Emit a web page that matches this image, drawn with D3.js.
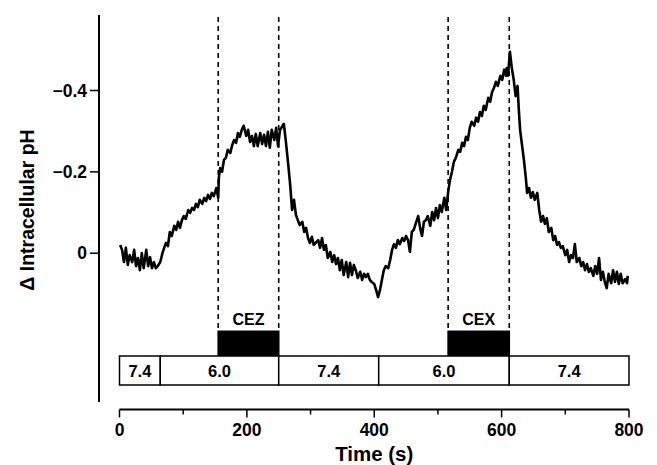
<!DOCTYPE html>
<html>
<head>
<meta charset="utf-8">
<script src="https://cdn.jsdelivr.net/npm/d3@7"></script>
<style>
  html, body { margin: 0; padding: 0; background: #fff; }
  svg text { font-family: "Liberation Sans", Arial, Helvetica, sans-serif; font-weight: bold; fill: #000; }
</style>
</head>
<body>
<svg id="chart" width="657" height="465"></svg>
<script>
// trace: time (s) and change of intracellular pH
var timeS = [1, 4, 7, 10, 13, 16, 20, 23, 26, 29, 32, 35, 38, 42, 45, 48, 51, 54, 57, 60, 64,
  68, 73, 76, 79, 82, 86, 89, 92, 95, 98, 101, 104, 108, 111, 114, 117, 120, 123, 126, 130,
  133, 136, 139, 142, 145, 148, 152, 155, 156, 158, 161, 164, 167, 170, 174, 177, 180, 183,
  186, 189, 192, 195, 199, 202, 205, 208, 211, 214, 217, 221, 224, 227, 230, 233, 236, 239,
  243, 246, 249, 252, 255, 258, 261, 265, 268, 271, 274, 277, 280, 283, 287, 290, 293, 296,
  299, 302, 305, 309, 312, 315, 318, 321, 324, 327, 331, 334, 337, 340, 343, 346, 349, 352,
  356, 359, 362, 365, 368, 371, 374, 378, 381, 384, 387, 390, 393, 396, 400, 403, 406, 409,
  412, 415, 418, 422, 425, 428, 431, 434, 437, 440, 444, 447, 450, 453, 456, 459, 462, 466,
  469, 472, 475, 478, 481, 484, 488, 491, 494, 497, 500, 503, 506, 510, 513, 516, 519, 522,
  525, 528, 532, 535, 538, 541, 544, 547, 550, 553, 557, 560, 563, 566, 569, 572, 575, 579,
  582, 585, 588, 591, 594, 598, 601, 604, 607, 608, 610, 613, 616, 619, 622, 625, 627, 629,
  632, 635, 638, 640, 643, 646, 649, 652, 656, 659, 662, 665, 668, 671, 674, 678, 681, 684,
  687, 690, 693, 696, 700, 703, 706, 709, 712, 715, 718, 722, 725, 728, 731, 734, 737, 740,
  744, 747, 750, 753, 756, 759, 762, 765, 768, 772, 775, 778, 781, 784, 787, 790, 794, 797, 798];
var dpH = [-0.019, -0.007, 0.023, -0.012, 0.030, 0.006, 0.023, -0.007, 0.033, 0.013, 0.043, 0.001,
  0.038, -0.007, 0.033, 0.011, 0.038, 0.023, 0.038, 0.033, 0.023,
  -0.002, -0.024, -0.016, -0.051, -0.041, -0.066, -0.056, -0.076, -0.061, -0.080, -0.090, -0.083,
  -0.105, -0.098, -0.110, -0.105, -0.120, -0.112, -0.130, -0.120, -0.135, -0.127, -0.142, -0.132,
  -0.147, -0.139, -0.159, -0.135, -0.184, -0.208, -0.199, -0.228, -0.233, -0.253, -0.245, -0.265,
  -0.277, -0.270, -0.294, -0.285, -0.302, -0.312, -0.287, -0.302, -0.272, -0.287, -0.262, -0.292,
  -0.262, -0.294, -0.267, -0.290, -0.262, -0.297, -0.258, -0.302, -0.277, -0.307, -0.262, -0.302,
  -0.309, -0.317, -0.277, -0.216, -0.167, -0.105, -0.130, -0.093, -0.080, -0.068, -0.076, -0.051,
  -0.061, -0.036, -0.024, -0.039, -0.019, -0.026, -0.031, -0.012, -0.036, -0.007, -0.019, 0.013,
  -0.002, 0.023, 0.006, 0.028, 0.013, 0.043, 0.018, 0.055, 0.023, 0.060, 0.025, 0.055, 0.030,
  0.043, 0.062, 0.047, 0.067, 0.052, 0.060, 0.052, 0.067, 0.072, 0.077, 0.092, 0.109, 0.092,
  0.067, 0.043, 0.033, 0.038, 0.018, -0.007, -0.021, -0.012, -0.031, -0.021, -0.036, -0.029,
  -0.041, -0.031, -0.002, -0.051, -0.056, -0.076, -0.090, -0.061, -0.041, -0.076, -0.080, -0.090,
  -0.066, -0.100, -0.080, -0.110, -0.085, -0.117, -0.100, -0.135, -0.105, -0.149, -0.179, -0.199,
  -0.223, -0.233, -0.253, -0.248, -0.270, -0.262, -0.285, -0.277, -0.307, -0.322, -0.312, -0.332,
  -0.322, -0.346, -0.336, -0.361, -0.351, -0.381, -0.371, -0.395, -0.405, -0.420, -0.410, -0.435,
  -0.425, -0.450, -0.435, -0.454, -0.435, -0.494, -0.454, -0.425, -0.385, -0.410, -0.351, -0.302,
  -0.265, -0.228, -0.184, -0.147, -0.159, -0.135, -0.149, -0.130, -0.147, -0.105, -0.076, -0.090,
  -0.071, -0.085, -0.051, -0.061, -0.031, -0.041, -0.019, -0.026, -0.012, -0.016, 0.006, -0.007,
  0.023, 0.006, 0.013, -0.021, 0.023, 0.013, 0.033, 0.023, 0.043, 0.028, 0.047, 0.038, 0.057,
  0.033, 0.052, 0.013, 0.067, 0.047, 0.072, 0.087, 0.052, 0.075, 0.043, 0.072, 0.047, 0.077,
  0.052, 0.075, 0.065, 0.075, 0.057];

// bath pH periods
var bathEdges = [0, 64, 250, 407, 612, 800];
var bathLabels = ["7.4", "6.0", "7.4", "6.0", "7.4"];

// drug applications
var drugNames = ["CEZ", "CEX"];
var drugStart = [155, 516];
var drugEnd = [250, 612];

var xTicks = [0, 100, 200, 300, 400, 500, 600, 700, 800];
var xLabelTicks = [0, 200, 400, 600, 800];
var yTicks = [0, -0.2, -0.4];

var svg = d3.select("#chart");

var xScale = d3.scaleLinear().domain([0, 800]).range([119.5, 629]);
var yScale = d3.scaleLinear().domain([0, -0.4]).range([252.7, 90]);

var axisTop = 15, axisBottom = 402, axisX = 99;
var barTop = 330.5, boxTop = 356, boxBottom = 385, xAxisY = 409.5;

// y axis
svg.append("line")
  .attr("x1", axisX).attr("x2", axisX)
  .attr("y1", axisTop).attr("y2", axisBottom)
  .attr("stroke", "#000").attr("stroke-width", 2);

var yAxis = d3.axisLeft(yScale)
  .tickValues(yTicks)
  .tickSize(9)
  .tickPadding(3)
  .tickFormat(function (d) {
    return d === 0 ? "0" : d3.format(".1f")(d).replace("-", "\u2212");
  });
var gy = svg.append("g").attr("transform", "translate(" + axisX + ",0)").call(yAxis);
gy.select(".domain").remove();
gy.selectAll(".tick line").attr("stroke", "#000").attr("stroke-width", 1.5);
gy.selectAll(".tick text").style("font-size", "17.5px").attr("dy", "0.35em");

svg.append("text")
  .attr("transform", "translate(34,210) rotate(-90)")
  .attr("text-anchor", "middle")
  .style("font-size", "19.5px")
  .text("\u0394 Intracellular pH");

// x axis
svg.append("line")
  .attr("x1", xScale(0)).attr("x2", xScale(800))
  .attr("y1", xAxisY).attr("y2", xAxisY)
  .attr("stroke", "#000").attr("stroke-width", 2);

svg.selectAll(".xtick").data(xTicks).enter().append("line")
  .attr("class", "xtick")
  .attr("x1", function (d) { return xScale(d); })
  .attr("x2", function (d) { return xScale(d); })
  .attr("y1", xAxisY)
  .attr("y2", function (d) { return xAxisY + (d % 200 === 0 ? 8 : 5); })
  .attr("stroke", "#000").attr("stroke-width", 1.5);

svg.selectAll(".xlab").data(xLabelTicks).enter().append("text")
  .attr("class", "xlab")
  .attr("x", function (d) { return xScale(d); })
  .attr("y", 436)
  .attr("text-anchor", "middle")
  .style("font-size", "17.5px")
  .text(function (d) { return d; });

svg.append("text")
  .attr("x", xScale(400))
  .attr("y", 461)
  .attr("text-anchor", "middle")
  .style("font-size", "20.5px")
  .text("Time (s)");

// dashed markers
var marks = drugStart.concat(drugEnd);
svg.selectAll(".mark").data(marks).enter().append("line")
  .attr("class", "mark")
  .attr("x1", function (d) { return xScale(d); })
  .attr("x2", function (d) { return xScale(d); })
  .attr("y1", 17).attr("y2", barTop)
  .attr("stroke", "#000").attr("stroke-width", 1.6)
  .attr("stroke-dasharray", "5,4");

// drug bars
svg.selectAll(".drug").data(drugNames).enter().append("rect")
  .attr("class", "drug")
  .attr("x", function (d, i) { return xScale(drugStart[i]) - 0.8; })
  .attr("y", barTop)
  .attr("width", function (d, i) { return xScale(drugEnd[i]) - xScale(drugStart[i]) + 1.6; })
  .attr("height", boxTop - barTop)
  .attr("fill", "#000");

svg.selectAll(".drugLabel").data(drugNames).enter().append("text")
  .attr("class", "drugLabel")
  .attr("x", function (d, i) { return (xScale(drugStart[i]) + xScale(drugEnd[i])) / 2; })
  .attr("y", 325)
  .attr("text-anchor", "middle")
  .style("font-size", "16px")
  .text(function (d) { return d; });

// bath boxes
svg.selectAll(".bath").data(bathLabels).enter().append("rect")
  .attr("class", "bath")
  .attr("x", function (d, i) { return xScale(bathEdges[i]); })
  .attr("y", boxTop)
  .attr("width", function (d, i) { return xScale(bathEdges[i + 1]) - xScale(bathEdges[i]); })
  .attr("height", boxBottom - boxTop)
  .attr("fill", "#fff")
  .attr("stroke", "#000").attr("stroke-width", 1.5);

svg.selectAll(".bathLabel").data(bathLabels).enter().append("text")
  .attr("class", "bathLabel")
  .attr("x", function (d, i) { return (xScale(bathEdges[i]) + xScale(bathEdges[i + 1])) / 2; })
  .attr("y", 376.5)
  .attr("text-anchor", "middle")
  .style("font-size", "16.5px")
  .text(function (d) { return d; });

// trace
var line = d3.line()
  .x(function (d, i) { return xScale(timeS[i]); })
  .y(function (d) { return yScale(d); });

svg.append("path")
  .datum(dpH)
  .attr("d", line)
  .attr("fill", "none")
  .attr("stroke", "#000")
  .attr("stroke-width", 2.6)
  .attr("stroke-linejoin", "round");
</script>
</body>
</html>
